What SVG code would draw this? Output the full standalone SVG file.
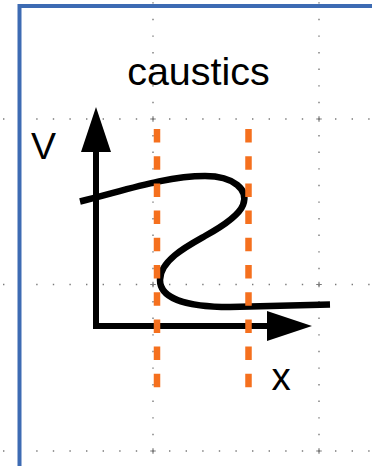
<svg xmlns="http://www.w3.org/2000/svg" width="372" height="466" viewBox="0 0 372 466">
  <style>
    .grid { stroke: #7a7a7a; stroke-width: 1.4; stroke-dasharray: 1.4 15.2; fill: none; }
    .cross { stroke: #7a7a7a; stroke-width: 1.2; fill: none; }
    .axis { stroke: #000; stroke-width: 6; fill: none; stroke-linejoin: miter; }
    .curve { stroke: #000; stroke-width: 6.5; fill: none; stroke-linecap: butt; }
    .guide { stroke: #f5701e; stroke-width: 6.5; stroke-dasharray: 13.5 13.7; fill: none; }
    .label { font-family: "Liberation Sans", Arial, sans-serif; fill: #000; }
  </style>
  <defs>
    <marker id="arrow" markerUnits="userSpaceOnUse" markerWidth="46" markerHeight="30" refX="0" refY="15" orient="auto-start-reverse" viewBox="0 0 46 30">
      <path d="M0,0 L45,15 L0,30 z" fill="#000"/>
    </marker>
    <path id="plus" d="M-2.8,0 h5.6 M0,-2.8 v5.6" class="cross"/>
  </defs>
  <rect width="372" height="466" fill="#fff"/>

  <g id="grid">
    <line class="grid" x1="3" y1="119" x2="372" y2="119"/>
    <line class="grid" x1="3" y1="284.5" x2="372" y2="284.5"/>
    <line class="grid" x1="3" y1="451" x2="372" y2="451"/>
    <line class="grid" x1="153" y1="2.2" x2="153" y2="466"/>
    <line class="grid" x1="319" y1="2.2" x2="319" y2="466"/>
    <use href="#plus" x="153" y="119"/>
    <use href="#plus" x="319" y="119"/>
    <use href="#plus" x="153" y="284.5"/>
    <use href="#plus" x="319" y="284.5"/>
    <use href="#plus" x="153" y="451"/>
    <use href="#plus" x="319" y="451"/>
  </g>

  <g id="frame">
    <rect x="19.5" y="6" width="400" height="500" fill="none" stroke="#3d6bb3" stroke-width="4"/>
  </g>

  <g id="title">
    <text class="label" x="198.5" y="85" font-size="39.5" text-anchor="middle">caustics</text>
  </g>

  <g id="connectors">
    <path id="axes" class="axis" d="M96,152 V326 H267" marker-start="url(#arrow)" marker-end="url(#arrow)"/>
  </g>

  <g id="curve">
    <path class="curve" d="M80,201.5 C120,192 165,176 205,176 C234,176 249,190 243,205 C239,215 225,225 205,236 C189,245 160,260 160,280 C160,298 185,307 230,307 L330,304.5"/>
  </g>

  <g id="guides">
    <line class="guide" x1="157" y1="129" x2="157" y2="388"/>
    <line class="guide" x1="248.5" y1="129" x2="248.5" y2="388"/>
  </g>

  <g id="label-v">
    <text class="label" x="31" y="158.5" font-size="37.5">V</text>
  </g>
  <g id="label-x">
    <text class="label" x="271.5" y="389.5" font-size="38.5">x</text>
  </g>
</svg>
